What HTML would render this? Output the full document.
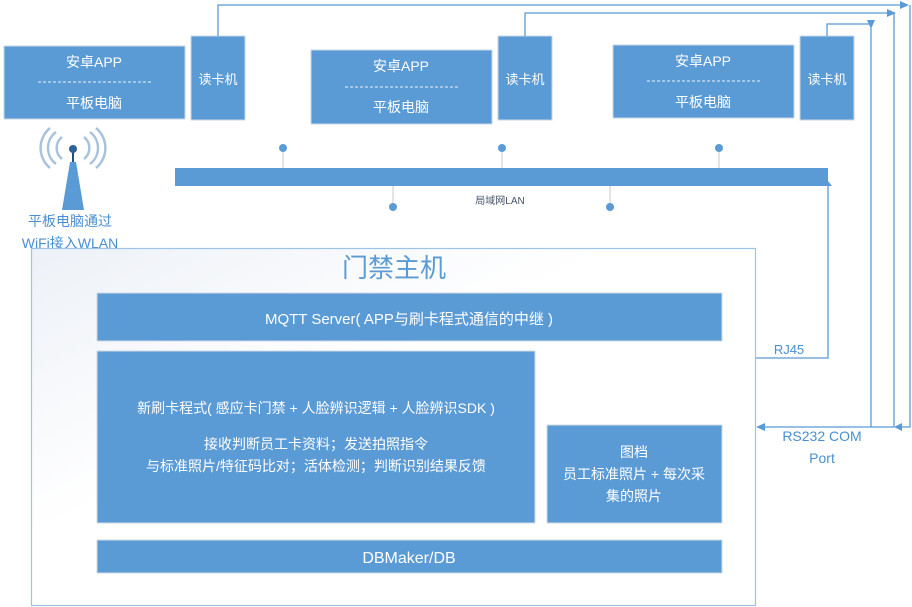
<!DOCTYPE html>
<html><head><meta charset="utf-8"><style>
html,body{margin:0;padding:0;background:#fff;}
svg{display:block;}
text{font-family:"Liberation Sans","Noto Sans CJK SC",sans-serif;}
</style></head><body>
<svg width="912" height="607" viewBox="0 0 912 607" xmlns="http://www.w3.org/2000/svg">
<defs>
<linearGradient id="g" x1="0" y1="0" x2="1" y2="1">
<stop offset="0" stop-color="#edf1f7"/><stop offset="0.4" stop-color="#ffffff"/><stop offset="1" stop-color="#ffffff"/>
</linearGradient>
</defs>
<g fill="#5b9bd5" stroke="#c9d6e6" stroke-width="1">
<rect x="4" y="46" width="181" height="73"/>
<rect x="191" y="36" width="54" height="84"/>
<rect x="311" y="50" width="181" height="74"/>
<rect x="498" y="36" width="54" height="84"/>
<rect x="613" y="45" width="181" height="73"/>
<rect x="800" y="36" width="54" height="84"/>
</g>
<g stroke="#e8f0f8" stroke-width="1" stroke-dasharray="3,2">
<line x1="38" y1="82" x2="152" y2="82"/>
<line x1="345" y1="87" x2="459" y2="87"/>
<line x1="647" y1="81" x2="761" y2="81"/>
</g>
<g fill="#fff" font-size="14" text-anchor="middle">
<text x="94" y="67">安卓APP</text><text x="94" y="108">平板电脑</text>
<text x="401" y="71">安卓APP</text><text x="401" y="112">平板电脑</text>
<text x="703" y="66">安卓APP</text><text x="703" y="107">平板电脑</text>
<text x="218" y="84" font-size="13">读卡机</text>
<text x="525" y="84" font-size="13">读卡机</text>
<text x="827" y="84" font-size="13">读卡机</text>
</g>
<!-- connectors -->
<g fill="none" stroke="#5b9bd5" stroke-width="1.3">
<polyline points="218,36 218,5 902,5"/>
<polyline points="525,36 525,13 888,13"/>
<polyline points="827,36 827,24 871,24"/>
<polyline points="910,5 910,427 899,427"/>
<polyline points="894,13 894,427 762,427"/>
<line x1="871" y1="28" x2="871" y2="427"/>
<polyline points="828,186 828,358 756,358"/>
</g>
<g fill="#5b9bd5">
<polygon points="909,5 900,1 900,9"/>
<polygon points="896,13 887,9 887,17"/>
<polygon points="871,29 867,20 875,20"/>
<polygon points="894,427 902,423 902,431"/>
<polygon points="756,427 765,423 765,431"/>
</g>
<!-- LAN -->
<g stroke="#c8c8c8" stroke-width="1">
<line x1="283" y1="150" x2="283" y2="168"/><line x1="502" y1="150" x2="502" y2="168"/><line x1="719" y1="150" x2="719" y2="168"/>
<line x1="393" y1="186" x2="393" y2="206"/><line x1="610" y1="186" x2="610" y2="206"/>
</g>
<polygon points="175,168 828,168 828,181 832,186 175,186" fill="#5b9bd5"/>
<g fill="#5b9bd5">
<circle cx="283" cy="148" r="4"/><circle cx="502" cy="148" r="4"/><circle cx="719" cy="148" r="4"/>
<circle cx="393" cy="207" r="4"/><circle cx="610" cy="207" r="4"/>
</g>
<text x="500" y="204" font-size="10" fill="#44546a" text-anchor="middle">局域网LAN</text>
<!-- antenna -->
<g fill="none" stroke="#a9c3dd" stroke-width="2.5">
<path d="M62,137 A14,14 0 0 0 62,159"/><path d="M84,137 A14,14 0 0 1 84,159"/>
<path d="M56,132 A20,20 0 0 0 56,164"/><path d="M90,132 A20,20 0 0 1 90,164"/>
<path d="M50,128 A26,26 0 0 0 50,168"/><path d="M96,128 A26,26 0 0 1 96,168"/>
</g>
<line x1="73" y1="150" x2="73" y2="163" stroke="#1f4e79" stroke-width="2"/>
<circle cx="73" cy="149" r="4" fill="#2e6099"/>
<polygon points="70,162 76,162 84,210 62,210" fill="#5b9bd5"/>
<text x="70" y="226" font-size="14" fill="#4a8fd0" text-anchor="middle">平板电脑通过</text>
<text x="70" y="248" font-size="14" fill="#4a8fd0" text-anchor="middle">WiFi接入WLAN</text>
<!-- main box -->
<rect x="31.5" y="248.5" width="724" height="357" fill="url(#g)" stroke="#9dc3e6" stroke-width="1.2"/>
<text x="394" y="277" font-size="26" fill="#5b9bd5" text-anchor="middle">门禁主机</text>
<g fill="#5b9bd5" stroke="#cfd8e3" stroke-width="1">
<rect x="97" y="293" width="625" height="48"/>
<rect x="97" y="351" width="438" height="172"/>
<rect x="547" y="425" width="175" height="98"/>
<rect x="97" y="540" width="625" height="33"/>
</g>
<g fill="#fff" text-anchor="middle">
<text x="409" y="324" font-size="15">MQTT Server( APP与刷卡程式通信的中继 )</text>
<text x="316" y="413" font-size="14">新刷卡程式( 感应卡门禁 + 人脸辨识逻辑 + 人脸辨识SDK )</text>
<text x="316" y="449" font-size="14">接收判断员工卡资料；发送拍照指令</text>
<text x="316" y="471" font-size="14">与标准照片/特征码比对；活体检测；判断识别结果反馈</text>
<text x="634" y="457" font-size="14">图档</text>
<text x="634" y="479" font-size="14">员工标准照片 + 每次采</text>
<text x="634" y="501" font-size="14">集的照片</text>
<text x="409" y="563" font-size="16">DBMaker/DB</text>
</g>
<text x="789" y="354" font-size="13" fill="#4a8fd0" text-anchor="middle">RJ45</text>
<text x="822" y="441" font-size="14" fill="#4a8fd0" text-anchor="middle">RS232 COM</text>
<text x="822" y="463" font-size="14" fill="#4a8fd0" text-anchor="middle">Port</text>
</svg>
</body></html>
